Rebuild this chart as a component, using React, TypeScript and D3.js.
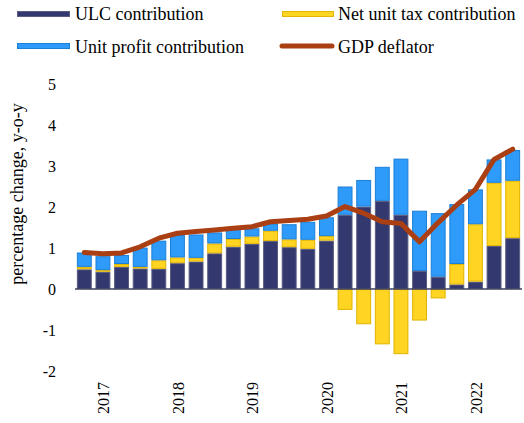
import React from "react";
import * as d3 from "d3";

const quarters = [
  "2017Q1", "2017Q2", "2017Q3", "2017Q4",
  "2018Q1", "2018Q2", "2018Q3", "2018Q4",
  "2019Q1", "2019Q2", "2019Q3", "2019Q4",
  "2020Q1", "2020Q2", "2020Q3", "2020Q4",
  "2021Q1", "2021Q2", "2021Q3", "2021Q4",
  "2022Q1", "2022Q2", "2022Q3", "2022Q4",
];
const yearLabels = ["2017", "2018", "2019", "2020", "2021", "2022"];
const yearLabelQuarter = ["2017Q2", "2018Q2", "2019Q2", "2020Q2", "2021Q2", "2022Q2"];

const ulc = [0.48, 0.42, 0.54, 0.50, 0.49, 0.63, 0.67, 0.87, 1.03, 1.10, 1.17, 1.02, 0.98, 1.18, 1.81, 2.01, 2.15, 1.81, 0.44, 0.30, 0.11, 0.18, 1.05, 1.24];
const tax = [0.06, 0.04, 0.07, 0.04, 0.21, 0.14, 0.09, 0.24, 0.19, 0.18, 0.25, 0.19, 0.22, 0.11, -0.51, -0.86, -1.35, -1.59, -0.77, -0.23, 0.50, 1.40, 1.54, 1.40];
const profit = [0.35, 0.34, 0.22, 0.47, 0.48, 0.55, 0.57, 0.27, 0.24, 0.20, 0.18, 0.37, 0.44, 0.46, 0.69, 0.65, 0.83, 1.37, 1.47, 1.55, 1.46, 0.85, 0.57, 0.75];
const deflator = [0.89, 0.86, 0.88, 1.03, 1.24, 1.36, 1.40, 1.44, 1.48, 1.52, 1.64, 1.67, 1.70, 1.78, 2.01, 1.85, 1.64, 1.60, 1.15, 1.62, 2.05, 2.43, 3.16, 3.41];
const yTicks = [-2, -1, 0, 1, 2, 3, 4, 5];

const seriesKeys = ["ulc", "tax", "profit"];
const seriesNames = ["ULC contribution", "Net unit tax contribution", "Unit profit contribution"];
const fills: Record<string, string> = { ulc: "#33386E", tax: "#FFD422", profit: "#2E9BFA" };
const strokes: Record<string, string> = { ulc: "#5A5C80", tax: "#E2B400", profit: "#1B7FD6" };
const lineColor = "#AA3F14";

const W = 524;
const H = 423;
const FONT = "Liberation Serif";

export default function App() {
  const rows = quarters.map((q, i) => ({ q, ulc: ulc[i], tax: tax[i], profit: profit[i] }));
  const stack = d3.stack<any>().keys(seriesKeys).offset(d3.stackOffsetDiverging);
  const stacked = stack(rows);

  const x = d3.scaleBand<string>().domain(quarters).range([75, 522]).paddingInner(0.2).paddingOuter(0.1);
  const y = d3.scaleLinear().domain([-2, 5]).range([371, 84]);

  const line = d3
    .line<number>()
    .x((_, i) => (x(quarters[i]) as number) + x.bandwidth() / 2)
    .y((d) => y(d));

  const txt = { fontFamily: FONT, fill: "#000" } as const;

  return (
    <div style={{ position: "absolute", left: 0, top: 0 }}>
      <svg width={W} height={H} style={{ display: "block", background: "#fff", fontFamily: FONT }}>
        {stacked.map((s) => (
          <g key={s.key}>
            {s.map((d, i) => {
              const y0 = y(d[0]);
              const y1 = y(d[1]);
              const top = Math.min(y0, y1);
              const h = Math.abs(y0 - y1);
              if (h < 0.01) return null;
              return (
                <rect
                  key={i}
                  x={(x(quarters[i]) as number) + 0.5}
                  y={top + 0.5}
                  width={x.bandwidth() - 1}
                  height={Math.max(0, h - 1)}
                  fill={fills[s.key]}
                  stroke={strokes[s.key]}
                  strokeWidth={1}
                />
              );
            })}
          </g>
        ))}
        <line x1={75} x2={522} y1={y(0)} y2={y(0)} stroke="#3C3F5E" strokeWidth={1.5} />
        <path
          d={line(deflator) || ""}
          fill="none"
          stroke={lineColor}
          strokeWidth={5}
          strokeLinejoin="round"
          strokeLinecap="round"
        />
        {yTicks.map((t) => (
          <text key={t} x={56} y={y(t)} textAnchor="end" dominantBaseline="central" fontSize={16} {...txt}>
            {t}
          </text>
        ))}
        <text
          transform={`translate(17,194) rotate(-90)`}
          textAnchor="middle"
          dominantBaseline="central"
          fontSize={18}
          {...txt}
        >
          percentage change, y-o-y
        </text>
        {yearLabels.map((yl, i) => {
          const cx = (x(yearLabelQuarter[i]) as number) + x.bandwidth() / 2 + 1;
          return (
            <text
              key={yl}
              transform={`translate(${cx},382) rotate(-90)`}
              textAnchor="end"
              dominantBaseline="central"
              fontSize={16}
              {...txt}
            >
              {yl}
            </text>
          );
        })}
        <rect x={17.5} y={11.5} width={52} height={5} fill={fills.ulc} stroke={strokes.ulc} />
        <text x={75} y={14} dominantBaseline="central" fontSize={18} {...txt}>{seriesNames[0]}</text>
        <rect x={282.5} y={11.5} width={51} height={5} fill={fills.tax} stroke={strokes.tax} />
        <text x={338} y={14} dominantBaseline="central" fontSize={18} {...txt}>{seriesNames[1]}</text>
        <rect x={17.5} y={43.5} width={52} height={5} fill={fills.profit} stroke={strokes.profit} />
        <text x={75} y={47} dominantBaseline="central" fontSize={18} {...txt}>{seriesNames[2]}</text>
        <line x1={282} x2={332} y1={46} y2={46} stroke={lineColor} strokeWidth={5} strokeLinecap="round" />
        <text x={338} y={47} dominantBaseline="central" fontSize={18} {...txt}>GDP deflator</text>
      </svg>
    </div>
  );
}
